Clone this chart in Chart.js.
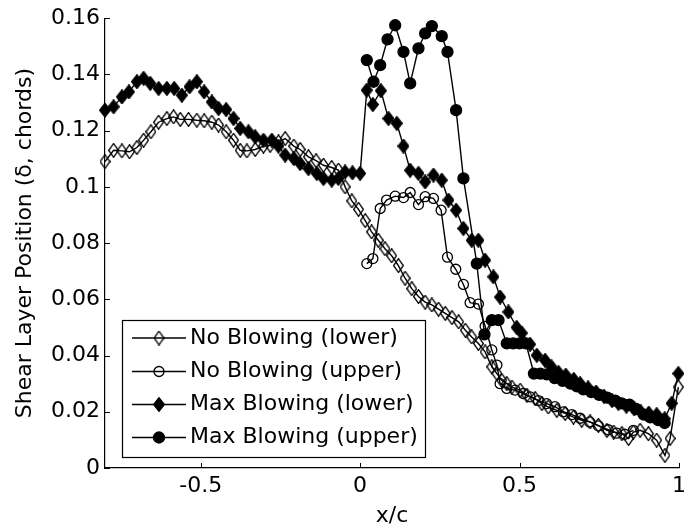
<!DOCTYPE html>
<html><head><meta charset="utf-8">
<script src="https://cdn.jsdelivr.net/npm/chart.js@4/dist/chart.umd.min.js"></script>
<style>html,body{margin:0;padding:0;background:#fff}</style>
</head><body>
<canvas id="c" width="694" height="529"></canvas>
<script>
// ---- data ----
const xTicks = [-0.5, 0, 0.5, 1];
const xTickLabels = ['-0.5', '0', '0.5', '1'];
const yTicks = [0, 0.02, 0.04, 0.06, 0.08, 0.1, 0.12, 0.14, 0.16];
const yTickLabels = ['0', '0.02', '0.04', '0.06', '0.08', '0.1', '0.12', '0.14', '0.16'];
const seriesNames = ['No Blowing (lower)', 'No Blowing (upper)', 'Max Blowing (lower)', 'Max Blowing (upper)'];
const xTitle = 'x/c';
const yTitle = 'Shear Layer Position (\u03B4, chords)';

const nblX = [-0.80,-0.773,-0.747,-0.723,-0.70,-0.679,-0.656,-0.632,-0.606,-0.585,-0.564,-0.538,-0.512,-0.489,-0.465,-0.444,-0.42,-0.397,-0.376,-0.355,-0.329,-0.303,-0.282,-0.256,-0.235,-0.208,-0.188,-0.162,-0.138,-0.115,-0.089,-0.068,-0.047,-0.026,-0.005,0.016,0.036,0.057,0.078,0.099,0.12,0.141,0.162,0.183,0.204,0.225,0.246,0.267,0.288,0.309,0.33,0.35,0.371,0.392,0.413,0.429,0.444,0.46,0.476,0.502,0.523,0.549,0.57,0.59,0.617,0.643,0.669,0.695,0.721,0.747,0.774,0.795,0.821,0.842,0.857,0.878,0.904,0.93,0.956,0.972,0.998];
const nblY = [0.109,0.113,0.1128,0.1125,0.114,0.1166,0.1196,0.123,0.1243,0.1249,0.124,0.124,0.1237,0.1235,0.123,0.122,0.1196,0.1166,0.113,0.1128,0.1133,0.1145,0.1148,0.116,0.1172,0.1145,0.1133,0.1107,0.1093,0.1077,0.1069,0.106,0.1,0.095,0.092,0.088,0.084,0.081,0.078,0.0755,0.072,0.0675,0.0638,0.061,0.059,0.058,0.0565,0.055,0.0535,0.052,0.049,0.0466,0.0443,0.0413,0.036,0.0336,0.0312,0.030,0.0288,0.0277,0.0259,0.0247,0.0229,0.0217,0.0205,0.0194,0.0181,0.017,0.0164,0.0152,0.0134,0.0128,0.0122,0.0105,0.0128,0.0134,0.0122,0.0099,0.0045,0.0105,0.0288];

const nbuX = [0.021,0.04,0.063,0.083,0.11,0.136,0.157,0.183,0.204,0.23,0.254,0.274,0.3,0.324,0.345,0.371,0.392,0.413,0.429,0.439,0.46,0.486,0.512,0.533,0.559,0.585,0.611,0.637,0.664,0.69,0.72,0.747,0.778,0.805,0.83,0.857];
const nbuY = [0.0727,0.0745,0.0923,0.0953,0.0967,0.0962,0.098,0.0937,0.0965,0.0959,0.0917,0.075,0.0707,0.0653,0.0588,0.0583,0.0504,0.042,0.0366,0.030,0.0283,0.0277,0.0265,0.0253,0.024,0.0229,0.0218,0.020,0.019,0.0177,0.0164,0.015,0.0136,0.0124,0.012,0.0134];

const mblX = [-0.80,-0.773,-0.747,-0.725,-0.70,-0.679,-0.658,-0.632,-0.606,-0.583,-0.559,-0.535,-0.512,-0.489,-0.465,-0.444,-0.42,-0.397,-0.376,-0.35,-0.329,-0.303,-0.277,-0.256,-0.235,-0.208,-0.188,-0.162,-0.136,-0.115,-0.089,-0.068,-0.047,-0.024,0,0.021,0.04,0.065,0.089,0.115,0.136,0.157,0.183,0.204,0.23,0.256,0.277,0.301,0.324,0.35,0.371,0.392,0.418,0.439,0.465,0.491,0.507,0.533,0.554,0.58,0.60,0.622,0.645,0.67,0.69,0.715,0.74,0.765,0.79,0.81,0.835,0.86,0.88,0.905,0.93,0.955,0.977,0.998];
const mblY = [0.1273,0.1285,0.132,0.1338,0.1374,0.1386,0.1368,0.135,0.135,0.135,0.1326,0.1356,0.1374,0.1338,0.1302,0.1279,0.1275,0.1243,0.1208,0.1196,0.1178,0.1166,0.1166,0.1145,0.1113,0.1101,0.1083,0.1065,0.1048,0.103,0.1024,0.103,0.1053,0.105,0.1048,0.1344,0.1293,0.1342,0.1243,0.1226,0.1145,0.1059,0.1048,0.1018,0.1042,0.1024,0.0953,0.0917,0.0852,0.081,0.081,0.0739,0.068,0.0608,0.0555,0.050,0.048,0.044,0.0401,0.0383,0.036,0.034,0.033,0.0315,0.030,0.0285,0.027,0.0255,0.024,0.023,0.022,0.021,0.020,0.0195,0.019,0.0175,0.023,0.0336];

const mbuX = [0.021,0.042,0.063,0.086,0.11,0.136,0.157,0.183,0.204,0.225,0.256,0.274,0.301,0.324,0.366,0.39,0.413,0.434,0.46,0.48,0.50,0.52,0.545,0.565,0.585,0.61,0.635,0.66,0.68,0.70,0.725,0.75,0.775,0.80,0.82,0.845,0.865,0.89,0.91,0.935,0.955];
const mbuY = [0.1451,0.1374,0.1433,0.1525,0.1575,0.148,0.1368,0.1493,0.1546,0.1572,0.1536,0.148,0.1273,0.103,0.0727,0.0475,0.0526,0.0526,0.0443,0.0443,0.0443,0.0443,0.0336,0.0336,0.0333,0.032,0.031,0.030,0.029,0.028,0.027,0.026,0.025,0.024,0.023,0.0225,0.021,0.019,0.018,0.017,0.016];

// ---- styles ----
const FONT = "'DejaVu Sans', sans-serif";
const FS = 22;
function mk(w, h, fill, lw) {
  const c = document.createElement('canvas'); c.width = w; c.height = h;
  const g = c.getContext('2d');
  const p = lw / 2;
  g.beginPath(); g.moveTo(w/2, p); g.lineTo(w-p, h/2); g.lineTo(w/2, h-p); g.lineTo(p, h/2); g.closePath();
  if (fill) { g.fillStyle = '#000'; g.fill(); }
  g.strokeStyle = '#000'; g.lineWidth = lw; g.stroke();
  return c;
}
const diamondOpen = mk(11, 15, false, 1.3);
const diamondFilled = mk(12, 15, true, 1.3);

function pts(xs, ys) { return xs.map((x, i) => ({x: x, y: ys[i]})); }
const common = {showLine: true, borderColor: '#000', borderWidth: 1.4, clip: false, pointBorderColor: '#000', pointBorderWidth: 1.3};
const styles = [
  {pointStyle: diamondOpen, pointRadius: 5, pointBackgroundColor: 'rgba(0,0,0,0)'},
  {pointStyle: 'circle', pointRadius: 5, pointBackgroundColor: 'rgba(0,0,0,0)'},
  {pointStyle: diamondFilled, pointRadius: 5, pointBackgroundColor: '#000'},
  {pointStyle: 'circle', pointRadius: 5.5, pointBackgroundColor: '#000'}
];
const sets = [[nblX, nblY], [nbuX, nbuY], [mblX, mblY], [mbuX, mbuY]];
const datasets = sets.map((s, i) => Object.assign({label: seriesNames[i], data: pts(s[0], s[1])}, common, styles[i]));

const decor = {
  id: 'decor',
  afterDatasetsDraw(chart) {
    const ctx = chart.ctx, xs = chart.scales.x, ys = chart.scales.y, a = chart.chartArea;
    ctx.save();
    ctx.strokeStyle = '#000'; ctx.lineWidth = 1;
    ctx.beginPath();
    yTicks.forEach(v => { const y = Math.round(ys.getPixelForValue(v)) + 0.5; ctx.moveTo(a.left, y); ctx.lineTo(a.left + 5, y); });
    xTicks.forEach(v => { const x = Math.round(xs.getPixelForValue(v)) + 0.5; ctx.moveTo(x, a.bottom); ctx.lineTo(x, a.bottom - 5); });
    ctx.stroke();
    // legend
    const L = 122.5, T = 320.5, R = 425.5, B = 457.5;
    ctx.fillStyle = '#fff'; ctx.fillRect(L, T, R - L, B - T);
    ctx.lineWidth = 1.2;
    ctx.strokeRect(L, T, R - L, B - T);
    const rows = [338, 371.5, 404.5, 437.5];
    ctx.font = FS + 'px ' + FONT; ctx.textBaseline = 'middle'; ctx.textAlign = 'left';
    rows.forEach((y, i) => {
      ctx.beginPath(); ctx.lineWidth = 1.4; ctx.moveTo(132, y); ctx.lineTo(186, y); ctx.stroke();
      const mx = 159;
      if (i === 0) ctx.drawImage(diamondOpen, mx - diamondOpen.width/2, y - diamondOpen.height/2);
      else if (i === 2) ctx.drawImage(diamondFilled, mx - diamondFilled.width/2, y - diamondFilled.height/2);
      else {
        ctx.beginPath(); ctx.arc(mx, y, i === 1 ? 5 : 5.5, 0, Math.PI * 2);
        if (i === 3) { ctx.fillStyle = '#000'; ctx.fill(); }
        ctx.lineWidth = 1.3; ctx.stroke();
      }
      ctx.fillStyle = '#000';
      ctx.fillText(seriesNames[i], 190, y);
    });
    ctx.restore();
  }
};

new Chart(document.getElementById('c'), {
  type: 'scatter',
  data: {datasets: datasets},
  options: {
    responsive: false, animation: false, devicePixelRatio: 1,
    layout: {padding: {left: 0, top: 18, right: 15, bottom: 0}},
    plugins: {legend: {display: false}, tooltip: {enabled: false}},
    scales: {
      x: {
        type: 'linear', min: -0.8, max: 1,
        afterBuildTicks: s => { s.ticks = xTicks.map(v => ({value: v})); },
        afterFit: s => { s.height = 61; },
        ticks: {color: '#000', padding: 5, font: {family: FONT, size: FS}, maxRotation: 0,
          callback: v => { const i = xTicks.indexOf(v); return i >= 0 ? xTickLabels[i] : ''; }},
        grid: {display: true, drawOnChartArea: false, drawTicks: false},
        border: {display: true, color: '#000', width: 1.2},
        title: {display: true, text: xTitle, color: '#000', font: {family: FONT, size: FS, lineHeight: 1.2}, padding: {top: 0, bottom: 0}}
      },
      y: {
        type: 'linear', min: 0, max: 0.16,
        afterBuildTicks: s => { s.ticks = yTicks.map(v => ({value: v})); },
        afterFit: s => { s.width = 105; },
        ticks: {color: '#000', padding: 5, font: {family: FONT, size: FS},
          callback: v => { const i = yTicks.findIndex(t => Math.abs(t - v) < 1e-9); return i >= 0 ? yTickLabels[i] : ''; }},
        grid: {display: true, drawOnChartArea: false, drawTicks: false},
        border: {display: true, color: '#000', width: 1.2},
        title: {display: true, text: yTitle, color: '#000', font: {family: FONT, size: FS, lineHeight: 1.2}, padding: {top: 12, bottom: 0}}
      }
    }
  },
  plugins: [decor]
});
</script>
</body></html>
